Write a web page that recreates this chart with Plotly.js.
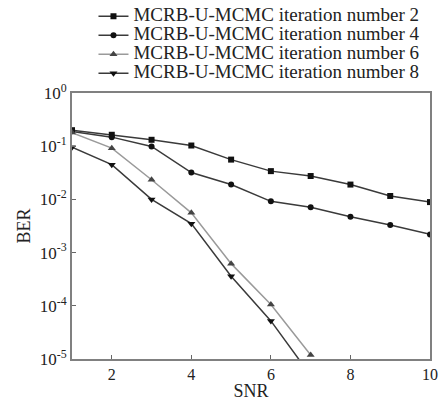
<!DOCTYPE html>
<html>
<head>
<meta charset="utf-8">
<script src="https://cdn.plot.ly/plotly-3.0.1.min.js"></script>
<style>html,body{margin:0;padding:0;background:#fff;}#chart{width:442px;height:401px;}</style>
</head>
<body>
<div id="chart"></div>
<script>
const snr = [1, 2, 3, 4, 5, 6, 7, 8, 9, 10];
const iter2 = [0.20, 0.164, 0.132, 0.103, 0.056, 0.034, 0.0275, 0.019, 0.0116, 0.0089];
const iter4 = [0.19, 0.148, 0.099, 0.032, 0.019, 0.0092, 0.0071, 0.0047, 0.0033, 0.0022];
const snrFast = [1, 2, 3, 4, 5, 6, 7];
const iter6 = [0.18, 0.092, 0.0234, 0.0056, 0.00062, 0.000106, 0.0000119];
const iter8 = [0.096, 0.045, 0.010, 0.0035, 0.00036, 0.000052, 0.0000049];
const names = [
  'MCRB-U-MCMC iteration number 2',
  'MCRB-U-MCMC iteration number 4',
  'MCRB-U-MCMC iteration number 6',
  'MCRB-U-MCMC iteration number 8'
];
const yTickVals = [1e-5, 1e-4, 1e-3, 1e-2, 1e-1, 1];
const yTickText = ['10<sup>-5</sup>', '10<sup>-4</sup>', '10<sup>-3</sup>', '10<sup>-2</sup>', '10<sup>-1</sup>', '10<sup>0</sup>'];
const xTickVals = [2, 4, 6, 8, 10];

const serif = 'Liberation Serif, Times New Roman, serif';
const big = s => '<span style="font-size:19px">' + s + '</span>';
const traces = [
  {x: snr, y: iter2, name: big(names[0]), mode: 'lines+markers',
   line: {color: '#3a3a3a', width: 1.5}, marker: {symbol: 'square', size: 6, color: '#111'}},
  {x: snr, y: iter4, name: big(names[1]), mode: 'lines+markers',
   line: {color: '#3a3a3a', width: 1.5}, marker: {symbol: 'circle', size: 6, color: '#111'}},
  {x: snrFast, y: iter6, name: big(names[2]), mode: 'lines+markers',
   line: {color: '#9a9a9a', width: 1.5}, marker: {symbol: 'triangle-up', size: 7, color: '#444'}},
  {x: snrFast, y: iter8, name: big(names[3]), mode: 'lines+markers',
   line: {color: '#3a3a3a', width: 1.5}, marker: {symbol: 'triangle-down', size: 7, color: '#111'}}
];

const layout = {
  width: 442, height: 401,
  margin: {l: 72, r: 12, t: 93, b: 42, autoexpand: false},
  paper_bgcolor: '#fff', plot_bgcolor: '#fff',
  font: {family: serif, color: '#222', size: 14},
  showlegend: true,
  legend: {x: 0.06, y: 1.343, xanchor: 'left', yanchor: 'top',
           font: {family: serif, size: 12, color: '#222'},
           bgcolor: 'rgba(0,0,0,0)', tracegroupgap: 0, itemwidth: 30},
  xaxis: {
    range: [1, 10], tickvals: xTickVals, ticks: 'inside', ticklen: 4, tickcolor: '#666',
    showgrid: false, zeroline: false, showline: true, mirror: true,
    linecolor: '#808080', linewidth: 2,
    tickfont: {family: serif, size: 16, color: '#222'},
    title: {text: 'SNR', font: {family: serif, size: 18, color: '#222'}, standoff: 2}
  },
  yaxis: {
    type: 'log', range: [-5, 0], tickvals: yTickVals, ticktext: yTickText,
    ticks: 'inside', ticklen: 4, tickcolor: '#666',
    showgrid: false, zeroline: false, showline: true, mirror: true,
    linecolor: '#808080', linewidth: 2,
    tickfont: {family: serif, size: 17, color: '#222'},
    title: {text: 'BER', font: {family: serif, size: 18, color: '#222'}, standoff: 4}
  }
};

Plotly.newPlot('chart', traces, layout, {displayModeBar: false, staticPlot: true});
</script>
</body>
</html>
